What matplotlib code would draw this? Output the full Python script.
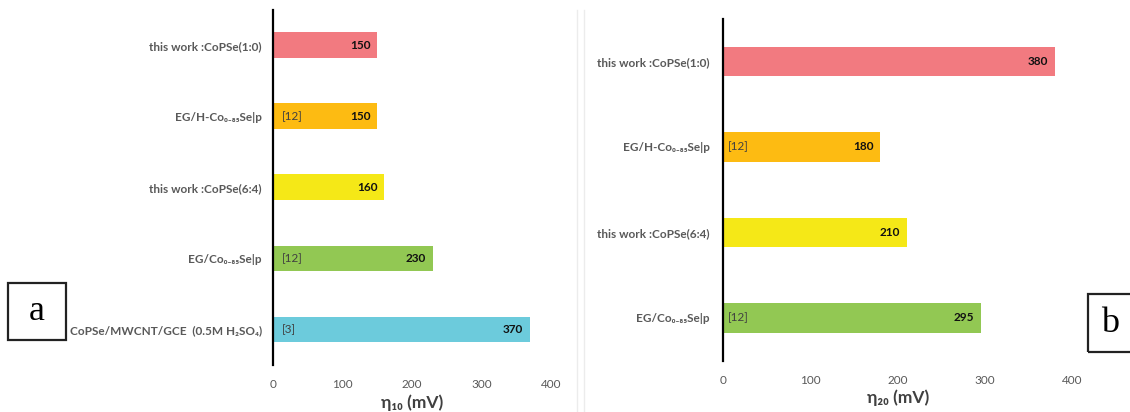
import matplotlib
matplotlib.use("Agg")
import matplotlib.pyplot as plt
from matplotlib.patches import Rectangle
from matplotlib.lines import Line2D

plt.rcParams['font.family'] = ['Lato', 'DejaVu Sans']

# panel a: eta_10
labels_a = ["this work :CoPSe(1:0)", "EG/H-Co₀₋₈₅Se|p", "this work :CoPSe(6:4)",
            "EG/Co₀₋₈₅Se|p", "CoPSe/MWCNT/GCE  (0.5M H₂SO₄)"]
values_a = [150, 150, 160, 230, 370]
refs_a = ["", "[12]", "", "[12]", "[3]"]
colors_a = ["#F27A80", "#FDBB12", "#F5E817", "#92C853", "#6CCBDC"]

# panel b: eta_20
labels_b = ["this work :CoPSe(1:0)", "EG/H-Co₀₋₈₅Se|p", "this work :CoPSe(6:4)", "EG/Co₀₋₈₅Se|p"]
values_b = [380, 180, 210, 295]
refs_b = ["", "[12]", "", "[12]"]
colors_b = ["#F27A80", "#FDBB12", "#F5E817", "#92C853"]

ticks = [0, 100, 200, 300, 400]
GRAY = "#595959"


def draw_panel(ax, labels, values, refs, colors, height, xlabel, ref_pad, lab_pad):
    y = list(range(len(labels)))
    ax.barh(y, values, height=height, color=colors, edgecolor="none")
    ax.set_ylim(len(labels) - 0.5, -0.5)
    ax.set_xlim(0, 400)
    ax.set_yticks(y)
    ax.set_yticklabels(labels, fontsize=8.5, fontweight="bold", color=GRAY)
    ax.set_xticks(ticks)
    ax.set_xticklabels([str(t) for t in ticks], fontsize=8.5, color=GRAY)
    ax.tick_params(axis="both", length=0)
    ax.tick_params(axis="y", pad=lab_pad)
    ax.tick_params(axis="x", pad=10)
    for s in ["top", "right", "bottom"]:
        ax.spines[s].set_visible(False)
    ax.spines["left"].set_linewidth(1.6)
    ax.spines["left"].set_color("black")
    for i, (v, r) in enumerate(zip(values, refs)):
        ax.annotate(str(v), (v, i), xytext=(-5, 0), textcoords="offset points",
                    ha="right", va="center", fontsize=8.5, fontweight="bold", color="#111111")
        if r:
            ax.annotate(r, (0, i), xytext=(ref_pad, 0), textcoords="offset points",
                        ha="left", va="center", fontsize=8.5, color="#404040")
    ax.set_xlabel(xlabel, fontsize=12.5, fontweight="bold", color="#404040", labelpad=3)


fig = plt.figure(figsize=(11.3, 4.12), dpi=100)
ax_a = fig.add_axes([0.2416, 0.114, 0.246, 0.862])
ax_b = fig.add_axes([0.6398, 0.1244, 0.3094, 0.8301])

draw_panel(ax_a, labels_a, values_a, refs_a, colors_a, 0.365, "η₁₀ (mV)", 6.5, 8)
draw_panel(ax_b, labels_b, values_b, refs_b, colors_b, 0.34, "η₂₀ (mV)", 3.5, 9.5)

# faint spreadsheet grid strip between panels
for xp in [577 / 1130, 584 / 1130]:
    fig.add_artist(Line2D([xp, xp], [0, 1 - 10 / 412], transform=fig.transFigure,
                          color="#ececec", lw=1))

# panel letters
W, H = 1130, 412
fig.add_artist(Rectangle((8 / W, 1 - 340 / H), 58 / W, 57 / H, transform=fig.transFigure,
                         fill=False, edgecolor="#222222", lw=1.6))
fig.text(37 / W, 1 - 311 / H, "a", fontsize=26, family="Liberation Serif",
         ha="center", va="center")
fig.add_artist(Rectangle((1088 / W, 1 - 352 / H), 60 / W, 58 / H, transform=fig.transFigure,
                         fill=False, edgecolor="#222222", lw=1.6))
fig.text(1110 / W, 1 - 323 / H, "b", fontsize=26, family="Liberation Serif",
         ha="center", va="center")

fig.savefig("out.png", dpi=100)
